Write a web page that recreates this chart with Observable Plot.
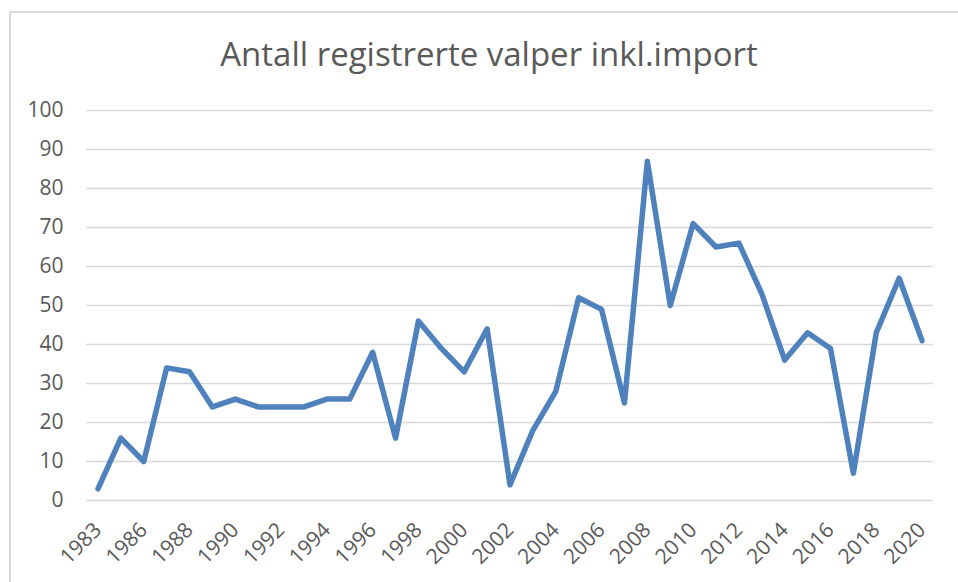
<!DOCTYPE html>
<html>
<head>
<meta charset="utf-8">
<script src="https://cdn.jsdelivr.net/npm/d3@7"></script>
<script src="https://cdn.jsdelivr.net/npm/@observablehq/plot@0.6"></script>
<style>
  html, body { margin: 0; padding: 0; background: #fff; }
  #wrap { position: relative; width: 958px; height: 582px; overflow: hidden; font-family: "Open Sans", sans-serif; }
  #frame { position: absolute; left: 9px; top: 11px; width: 2000px; height: 2000px; border-left: 2px solid #d9d9d9; border-top: 2px solid #d9d9d9; box-sizing: border-box; }
  #title { position: absolute; left: 0; width: 978px; top: 31px; text-align: center; font-size: 33px; color: #595959; white-space: nowrap; }
  #chart { position: absolute; left: 0; top: 0; }
  #chart svg text { font-family: "Open Sans", sans-serif !important; font-size: 21px !important; }
</style>
</head>
<body>
<div id="wrap">
  <div id="frame"></div>
  <div id="title">Antall registrerte valper inkl.import</div>
  <div id="chart"></div>
</div>
<script>
const years = ["1983","1985","1986","1987","1988","1989","1990","1991","1992","1993","1994","1995","1996","1997","1998","1999","2000","2001","2002","2003","2004","2005","2006","2007","2008","2009","2010","2011","2012","2013","2014","2015","2016","2017","2018","2019","2020"];
const values = [3,16,10,34,33,24,26,24,24,24,26,26,38,16,46,39,33,44,4,18,28,52,49,25,87,50,71,65,66,53,36,43,39,7,43,57,41];
const yTicks = [0,10,20,30,40,50,60,70,80,90,100];
const xTickLabels = years.filter((d, i) => i % 2 === 0);

const data = years.map((y, i) => ({year: y, value: values[i]}));

const chart = Plot.plot({
  width: 958,
  height: 582,
  marginLeft: 86,
  marginRight: 25,
  marginTop: 110,
  marginBottom: 82,
  style: {fontFamily: "'Open Sans', sans-serif", fontSize: "21px", color: "#595959", background: "transparent"},
  x: {type: "band", domain: years, padding: 0, label: null},
  y: {domain: [0, 100], label: null},
  marks: [
    Plot.gridY(yTicks, {stroke: "#d9d9d9", strokeOpacity: 1, strokeWidth: 1.5}),
    Plot.axisY(yTicks, {tickSize: 0, tickPadding: 23, label: null, fill: "#595959"}),
    Plot.axisX(xTickLabels, {tickSize: 0, tickRotate: -45, tickPadding: 26, label: null, fill: "#595959"}),
    Plot.line(data, {x: "year", y: "value", stroke: "#4f81bd", strokeWidth: 5.5, strokeLinejoin: "round", strokeLinecap: "round"})
  ]
});
document.getElementById("chart").appendChild(chart);
</script>
</body>
</html>
